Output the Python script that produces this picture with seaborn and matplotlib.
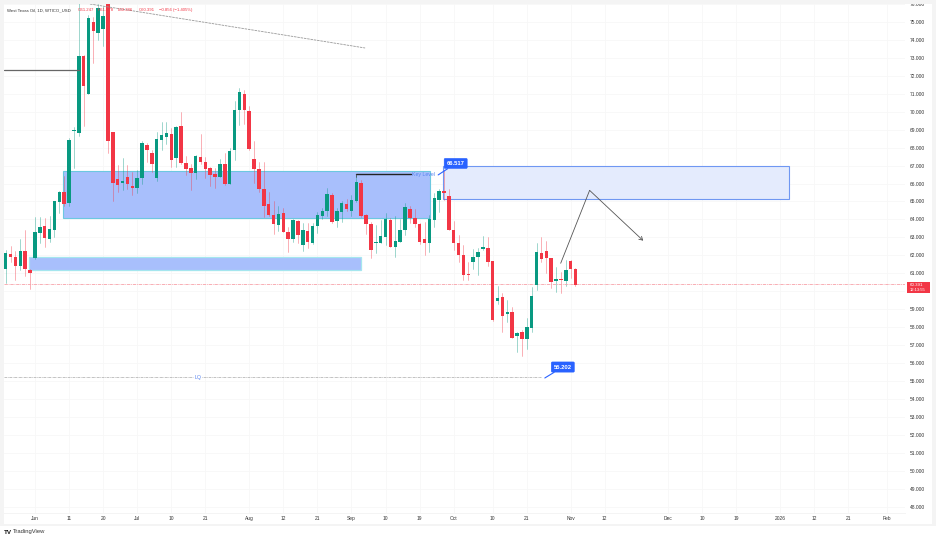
import pandas as pd
import seaborn as sns
from matplotlib import pyplot as plt
from matplotlib.patches import Rectangle

# Daily candles
open_prices = [61.22, 62.07, 61.93, 61.43, 62.24, 61.18, 61.84, 63.23, 63.63, 62.93,
               63.41, 64.97, 65.53, 64.93, 68.93, 68.83, 73.10, 70.99, 75.00, 74.40,
               74.61, 76.50, 68.86, 66.25, 66.05, 66.38, 65.85, 65.75, 66.31, 68.15,
               67.72, 66.33, 68.43, 68.58, 68.76, 67.41, 69.20, 67.16, 66.88, 66.60,
               67.50, 67.18, 66.87, 66.53, 66.38, 67.09, 65.97, 67.87, 70.10, 70.99,
               70.04, 67.37, 66.83, 65.70, 64.86, 64.25, 63.67, 64.36, 63.28, 62.93,
               63.91, 62.56, 63.36, 62.69, 63.64, 64.19, 64.47, 65.36, 63.93, 64.42,
               64.86, 64.45, 65.00, 66.03, 64.25, 63.73, 62.67, 62.71, 63.00, 63.97,
               62.48, 62.76, 63.41, 64.58, 64.06, 63.73, 62.90, 62.71, 63.97, 65.08,
               65.58, 65.31, 63.41, 62.71, 62.02, 60.96, 61.61, 61.93, 62.34, 62.41,
               61.69, 59.47, 59.68, 58.75, 58.84, 57.53, 57.71, 57.34, 57.97, 60.36,
               62.15, 62.24, 61.83, 60.55, 60.68, 60.57, 61.69, 61.24]
high_prices = [62.30, 62.54, 62.24, 62.89, 63.41, 61.24, 64.12, 64.12, 64.08, 64.19,
               65.03, 65.58, 66.44, 68.52, 69.17, 76.50, 73.15, 75.39, 75.30, 76.00,
               75.90, 76.50, 68.89, 67.03, 67.40, 67.03, 66.66, 66.76, 68.37, 68.28,
               67.87, 68.89, 69.45, 69.45, 69.11, 69.20, 69.97, 67.53, 67.09, 67.59,
               68.76, 67.50, 66.91, 66.87, 67.37, 67.69, 67.98, 70.60, 71.31, 71.21,
               70.32, 68.37, 67.22, 67.22, 65.55, 65.00, 64.75, 64.66, 63.60, 64.00,
               63.97, 63.82, 63.79, 63.79, 64.44, 64.66, 65.77, 65.46, 64.64, 65.00,
               65.12, 65.36, 66.48, 66.20, 64.30, 63.87, 63.69, 63.97, 64.34, 64.08,
               64.19, 64.00, 64.90, 64.75, 64.56, 63.79, 63.87, 64.25, 65.46, 65.68,
               66.76, 65.68, 63.93, 63.13, 62.58, 61.65, 62.34, 62.39, 63.08, 63.00,
               61.69, 60.29, 59.89, 59.51, 59.14, 57.75, 57.84, 58.49, 60.25, 62.67,
               63.00, 62.82, 61.85, 61.37, 61.09, 61.74, 61.74, 61.28]
low_prices = [60.48, 61.65, 60.63, 61.18, 60.87, 60.14, 61.80, 62.67, 62.47, 62.76,
              63.04, 64.38, 64.75, 64.75, 66.88, 68.65, 69.20, 70.99, 72.70, 74.00,
              73.66, 67.72, 65.00, 65.55, 65.64, 65.70, 65.38, 65.47, 65.97, 67.22,
              66.66, 66.16, 67.87, 68.20, 66.91, 66.94, 67.10, 66.48, 65.64, 66.25,
              67.09, 66.33, 65.86, 65.73, 66.36, 65.92, 65.97, 67.31, 69.26, 69.32,
              67.87, 66.05, 65.55, 64.15, 64.19, 63.19, 63.37, 63.32, 62.19, 62.76,
              62.69, 62.24, 62.43, 62.63, 63.26, 64.00, 64.19, 63.82, 63.60, 63.87,
              64.49, 64.19, 64.97, 64.12, 63.19, 61.84, 62.15, 62.67, 62.58, 62.45,
              61.93, 62.73, 63.13, 63.79, 63.60, 62.63, 62.02, 62.20, 63.60, 64.44,
              65.08, 63.41, 62.30, 61.65, 60.63, 60.63, 61.22, 60.91, 62.30, 61.41,
              58.36, 59.29, 57.75, 58.30, 57.39, 56.63, 56.39, 56.77, 57.75, 60.07,
              61.65, 61.00, 60.16, 59.98, 59.92, 60.29, 60.72, 60.29]
close_prices = [62.15, 61.93, 61.43, 62.24, 61.22, 61.03, 63.30, 63.60, 62.99, 63.49,
                65.00, 65.53, 64.88, 68.41, 68.98, 73.10, 71.43, 75.24, 74.50, 75.76,
                75.33, 68.37, 66.05, 65.92, 66.14, 65.97, 65.75, 66.31, 68.28, 67.87,
                67.10, 68.46, 68.70, 68.80, 67.31, 69.13, 67.13, 66.80, 66.60, 67.53,
                67.22, 66.83, 66.48, 66.38, 67.10, 65.96, 67.81, 70.10, 71.10, 70.10,
                67.94, 66.79, 65.70, 64.75, 64.25, 63.75, 64.30, 63.32, 62.91, 63.97,
                63.13, 63.41, 62.74, 63.64, 64.25, 64.47, 65.42, 63.87, 64.47, 64.92,
                64.57, 65.10, 66.10, 64.19, 63.73, 62.32, 62.76, 63.08, 64.03, 62.48,
                62.82, 63.41, 64.68, 64.06, 63.73, 62.74, 62.71, 64.00, 65.18, 65.60,
                65.49, 63.41, 62.71, 62.02, 60.91, 60.91, 61.93, 62.20, 62.45, 61.65,
                58.42, 59.61, 58.64, 58.83, 57.39, 57.69, 57.34, 58.01, 59.74, 62.19,
                61.81, 61.83, 60.50, 60.67, 60.63, 61.18, 61.24, 60.36]

# Axis labels
price_ticks = [48, 49, 50, 51, 52, 53, 54, 55, 56, 57, 58, 59, 60, 61,
               62, 63, 64, 65, 66, 67, 68, 69, 70, 71, 72, 73, 74, 75, 76]
date_ticks = [6, 13, 20, 27, 34, 41, 50, 57, 64, 71, 78, 85, 92, 100, 107,
              116, 123, 136, 143, 150, 159, 166, 173, 181]
date_labels = ['Jun', '11', '20', 'Jul', '10', '21', 'Aug', '12', '21', 'Sep', '10', '19',
               'Oct', '10', '21', 'Nov', '12', 'Dec', '10', '19', '2026', '12', '21', 'Feb']

# Drawings on the chart, as (bar from, bar to, price low, price high)
supply_zone = (11.83, 87.1, 64.10, 66.68)
demand_zone = (4.85, 72.9, 61.18, 61.93)
target_zone = (89.85, 160.9, 65.12, 66.96)
path_bars = [113.96, 119.9, 130.9]
path_prices = [61.56, 65.62, 62.82]
trend_bars = [17.3, 73.8]
trend_prices = [76.0, 73.55]
last_price = 60.391
key_level = 66.53
lq_level = 55.202
old_level = 72.31

UP = '#089981'
DOWN = '#F23645'
BLUE = '#2962FF'

sns.set_theme(style='white')
plt.rcParams['font.family'] = ['Liberation Sans', 'DejaVu Sans']

candles = pd.DataFrame({'bar': range(len(open_prices)), 'open': open_prices, 'high': high_prices,
                        'low': low_prices, 'close': close_prices})
candles['up'] = candles['close'] >= candles['open']
candles['bottom'] = candles[['open', 'close']].min(axis=1)
candles['body'] = (candles['close'] - candles['open']).abs()
wicks = candles.melt(id_vars=['bar', 'up'], value_vars=['low', 'high'], value_name='price')

fig = plt.figure(figsize=(9.36, 5.38), dpi=100, facecolor='white')
ax = fig.add_axes([4 / 936, 1 - 513 / 538, 901 / 936, 509 / 538])
ax.set_facecolor('white')


def draw_zone(zone, face, edge, width):
    # Filled box behind the candles
    ax.add_patch(Rectangle((zone[0], zone[2]), zone[1] - zone[0], zone[3] - zone[2],
                           facecolor=face, edgecolor=edge, linewidth=width, zorder=1))


draw_zone(supply_zone, '#A8BFFC', '#6CC8E0', 0.8)
draw_zone(demand_zone, '#A8BFFC', '#A5E6EE', 0.9)
draw_zone(target_zone, '#E4EBFD', '#6F97F2', 0.8)

# Wicks and bodies, one direction at a time
for is_up, color in [(True, UP), (False, DOWN)]:
    sns.lineplot(data=wicks[wicks['up'] == is_up], x='bar', y='price', units='bar', estimator=None,
                 sort=False, color=color, linewidth=0.5, alpha=0.55, ax=ax, zorder=2, legend=False)
    part = candles[candles['up'] == is_up]
    sns.barplot(data=part, x='bar', y='body', bottom=part['bottom'], native_scale=True, color=color,
                saturation=1, width=0.72, errorbar=None, linewidth=0, ax=ax, zorder=3)

ax.set_xlim(-0.35, 184.66)
ax.set_ylim(47.65, 76.0)
ax.set_xlabel('')
ax.set_ylabel('')
ax.set_xticks(date_ticks)
ax.set_xticklabels(date_labels)
ax.yaxis.tick_right()
ax.set_yticks(price_ticks)
ax.set_yticklabels(['' if p == 60 else f'{p}.000' for p in price_ticks])
ax.tick_params(axis='both', length=0, labelsize=3.5, labelcolor='#333333')
ax.tick_params(axis='x', pad=2.5)
ax.tick_params(axis='y', pad=3.5)
ax.grid(True, color='#F7F7F7', linewidth=0.6)
ax.set_axisbelow(True)
for side in ['top', 'left', 'right']:
    ax.spines[side].set_visible(False)
ax.spines['bottom'].set_color('#F2F2F2')
ax.spines['bottom'].set_linewidth(0.6)

# Levels and trade path
ax.plot([-0.35, 15], [old_level, old_level], color='#666666', linewidth=0.9, zorder=4)
ax.plot(trend_bars, trend_prices, color='#999999', linewidth=0.6, linestyle=(0, (3, 1)), zorder=4)
ax.plot([71.93, 83.2], [key_level, key_level], color='#222222', linewidth=1.0, zorder=4)
ax.plot([71.93, 71.93], [key_level, key_level - 0.18], color='#444444', linewidth=0.5, zorder=4)
ax.text(83.5, key_level - 0.04, 'Key Level', color='#5A86F0', fontsize=3.8, va='center', zorder=5)
ax.plot([-0.35, 109.9], [lq_level, lq_level], color='#AAAAAA', linewidth=0.5, linestyle=(0, (4, 1, 1, 1)), zorder=2)
ax.text(39.5, lq_level, 'LQ', color='#5A86F0', fontsize=3.8, va='center', ha='center',
        bbox=dict(fc='white', ec='none', pad=0.4), zorder=3)
ax.axhline(last_price, color='#F7A1A8', linewidth=0.6, linestyle=(0, (4, 1, 1, 1)), zorder=2)

ax.plot(path_bars[:2], path_prices[:2], color='#555555', linewidth=0.6, zorder=5)
ax.annotate('', xy=(path_bars[2], path_prices[2]), xytext=(path_bars[1], path_prices[1]),
            arrowprops=dict(arrowstyle='->,head_length=0.2,head_width=0.12', color='#555555', lw=0.6,
                            shrinkA=0, shrinkB=0), zorder=5)

# Price callouts
for text, tip, box in [('66.517', (88.8, 66.48), (92.4, 67.12)), ('55.202', (110.7, 55.17), (114.4, 55.78))]:
    ax.annotate(text, xy=tip, xytext=box, color='white', fontsize=4.2, fontweight='bold', ha='center', va='center',
                bbox=dict(boxstyle='round,pad=0.45,rounding_size=0.2', fc=BLUE, ec=BLUE, lw=0.3),
                arrowprops=dict(arrowstyle='-', color=BLUE, lw=0.8, shrinkA=0, shrinkB=0), zorder=6)

# Last price tag on the scale
trans = ax.get_yaxis_transform()
ax.add_patch(Rectangle((1.0019, 59.89), 0.0258, 0.64, transform=trans, facecolor=DOWN, edgecolor='none',
                       clip_on=False, zorder=6))
ax.text(1.005, 60.36, '60.391', transform=trans, color='white', fontsize=3.2, va='center', clip_on=False, zorder=7)
ax.text(1.005, 60.06, '12:13:55', transform=trans, color='white', fontsize=3.0, va='center', clip_on=False, zorder=7)

# Legend line on top of the chart
header_y = 1 - 10 / 538
fig.text(7 / 936, header_y, 'West Texas Oil, 1D, WTICO_USD', color='#333333', fontsize=3.1, va='center', zorder=8)
for x_px, piece in [(78, 'O61.247'), (98, 'H61.278'), (118, 'L60.386'), (139, 'C60.391'), (159, '−0.856 (−1.405%)')]:
    fig.text(x_px / 936, header_y, piece, color=DOWN, fontsize=3.1, va='center', zorder=8)

# Screenshot margin and logo
for x0, y0, w, h in [(0, 0, 936, 4), (0, 0, 4, 524), (932, 0, 4, 524), (0, 524, 936, 1.5)]:
    fig.add_artist(Rectangle((x0 / 936, 1 - (y0 + h) / 538), w / 936, h / 538, transform=fig.transFigure,
                             facecolor='#F4F4F4', edgecolor='none', zorder=7))
fig.text(4 / 936, 1 - 532 / 538, 'TV', color='#111111', fontsize=4.5, fontweight='bold', va='center')
fig.text(13 / 936, 1 - 532 / 538, 'TradingView', color='#333333', fontsize=4.2, va='center')

plt.savefig('out.png', dpi=100)
